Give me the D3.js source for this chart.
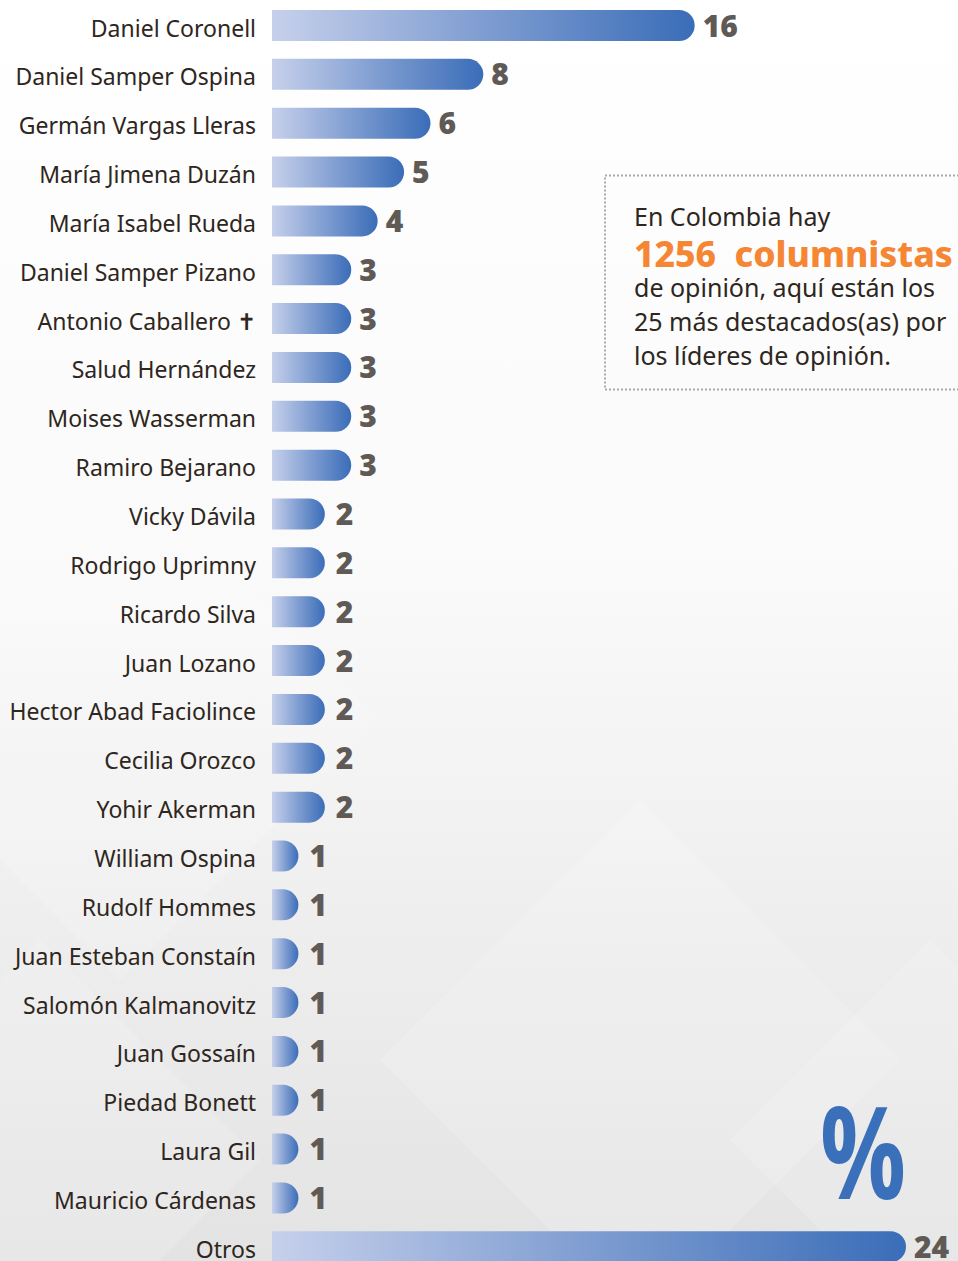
<!DOCTYPE html>
<html>
<head>
<meta charset="utf-8">
<script src="https://cdn.jsdelivr.net/npm/d3@7"></script>
<style>
  body { margin: 0; background: #f4f4f4; }
  svg { display: block; }
</style>
</head>
<body>
<svg id="chart" width="958" height="1261"></svg>
<script>
// Data
var names = ["Daniel Coronell", "Daniel Samper Ospina", "Germán Vargas Lleras", "María Jimena Duzán",
  "María Isabel Rueda", "Daniel Samper Pizano", "Antonio Caballero \u271D", "Salud Hernández",
  "Moises Wasserman", "Ramiro Bejarano", "Vicky Dávila", "Rodrigo Uprimny", "Ricardo Silva",
  "Juan Lozano", "Hector Abad Faciolince", "Cecilia Orozco", "Yohir Akerman", "William Ospina",
  "Rudolf Hommes", "Juan Esteban Constaín", "Salomón Kalmanovitz", "Juan Gossaín", "Piedad Bonett",
  "Laura Gil", "Mauricio Cárdenas", "Otros"];
var votes = [16, 8, 6, 5, 4, 3, 3, 3, 3, 3, 2, 2, 2, 2, 2, 2, 2, 1, 1, 1, 1, 1, 1, 1, 1, 24];
var introLines = ["En Colombia hay", "1256  columnistas", "de opinión, aquí están los",
  "25 más destacados(as) por", "los líderes de opinión."];

var width = 958, height = 1261;
var svg = d3.select("#chart");
var defs = svg.append("defs");

// background
var bg = defs.append("linearGradient").attr("id", "bg")
  .attr("x1", 0).attr("y1", 0).attr("x2", 0).attr("y2", 1);
bg.append("stop").attr("offset", "0%").attr("stop-color", "#ffffff");
bg.append("stop").attr("offset", "45%").attr("stop-color", "#fafafa");
bg.append("stop").attr("offset", "100%").attr("stop-color", "#e3e3e3");
svg.append("rect").attr("width", width).attr("height", height).attr("fill", "url(#bg)");

// faint diamonds in the background
var diamonds = [[120, 720, 260], [830, 330, 230], [40, 1160, 220], [640, 1060, 260], [930, 1140, 200]];
svg.append("g").selectAll("path").data(diamonds).enter().append("path")
  .attr("d", function(d) {
    return "M" + d[0] + "," + (d[1] - d[2]) + "L" + (d[0] + d[2]) + "," + d[1] +
      "L" + d[0] + "," + (d[1] + d[2]) + "L" + (d[0] - d[2]) + "," + d[1] + "Z";
  })
  .attr("fill", "#ffffff").attr("opacity", 0.15);

// bar gradient, stretched on each bar
var grad = defs.append("linearGradient").attr("id", "barGrad")
  .attr("x1", 0).attr("y1", 0).attr("x2", 1).attr("y2", 0);
grad.append("stop").attr("offset", "0%").attr("stop-color", "#c6d0eb");
grad.append("stop").attr("offset", "50%").attr("stop-color", "#7f9dd1");
grad.append("stop").attr("offset", "100%").attr("stop-color", "#3a6db8");

var x = d3.scaleLinear().domain([0, 24]).range([272, 906]);
var y = d3.scalePoint().domain(names).range([25.5, 1246.8]);
var barH = 31, r = barH / 2;

function barPath(d) {
  var x0 = x(0), x1 = x(d.v), y0 = y(d.n) - r, y1 = y(d.n) + r;
  var rr = Math.min(r, x1 - x0);
  return "M" + x0 + "," + y0 + "L" + (x1 - rr) + "," + y0 +
    "A" + rr + "," + r + " 0 0 1 " + (x1 - rr) + "," + y1 +
    "L" + x0 + "," + y1 + "Z";
}

var data = names.map(function(n, i) { return { n: n, v: votes[i] }; });

var rows = svg.append("g").selectAll("g.row").data(data).enter()
  .append("g").attr("class", "row");

rows.append("path").attr("d", barPath).attr("fill", "url(#barGrad)");

rows.append("text")
  .attr("x", 256).attr("y", function(d) { return y(d.n) + 11; })
  .attr("text-anchor", "end")
  .style("font-family", "'Noto Sans', sans-serif")
  .style("font-size", "23px")
  .style("fill", "#2e2620")
  .text(function(d) { return d.n; });

rows.append("text")
  .attr("x", function(d) { return x(d.v) + (d.v < 3 ? 11 : 8); })
  .attr("y", function(d) { return y(d.n) + 11; })
  .style("font-family", "'Open Sans', sans-serif")
  .style("font-weight", 800)
  .style("font-size", "30px")
  .style("fill", "#5f5a56")
  .text(function(d) { return d.v; });

// intro box
svg.append("rect")
  .attr("x", 605).attr("y", 175.5).attr("width", 360).attr("height", 214)
  .attr("fill", "none").attr("stroke", "#a9a9a9").attr("stroke-width", 2)
  .attr("stroke-dasharray", "2,2");

var intro = svg.append("g").attr("transform", "translate(634,0)");
var lineY = [226, 267, 297, 331, 365];
intro.selectAll("text").data(introLines).enter().append("text")
  .attr("x", 0).attr("y", function(d, i) { return lineY[i]; })
  .style("font-family", "'Noto Sans', sans-serif")
  .style("font-size", function(d, i) { return i === 1 ? "37px" : "25px"; })
  .style("font-weight", function(d, i) { return i === 1 ? 800 : 400; })
  .style("fill", function(d, i) { return i === 1 ? "#f58634" : "#2e2620"; })
  .attr("xml:space", "preserve")
  .text(function(d) { return d; })
  .each(function(d, i) {
    if (i === 1) {
      var w = this.getComputedTextLength();
      d3.select(this).style("font-size", (37 * 319 / w) + "px");
    }
  });

// big percent sign
svg.append("text")
  .attr("x", 820).attr("y", 1199)
  .attr("textLength", 86).attr("lengthAdjust", "spacingAndGlyphs")
  .style("font-family", "'Open Sans', sans-serif")
  .style("font-weight", 700)
  .style("font-size", "128px")
  .style("fill", "#3a6fba")
  .text("%");
</script>
</body>
</html>
